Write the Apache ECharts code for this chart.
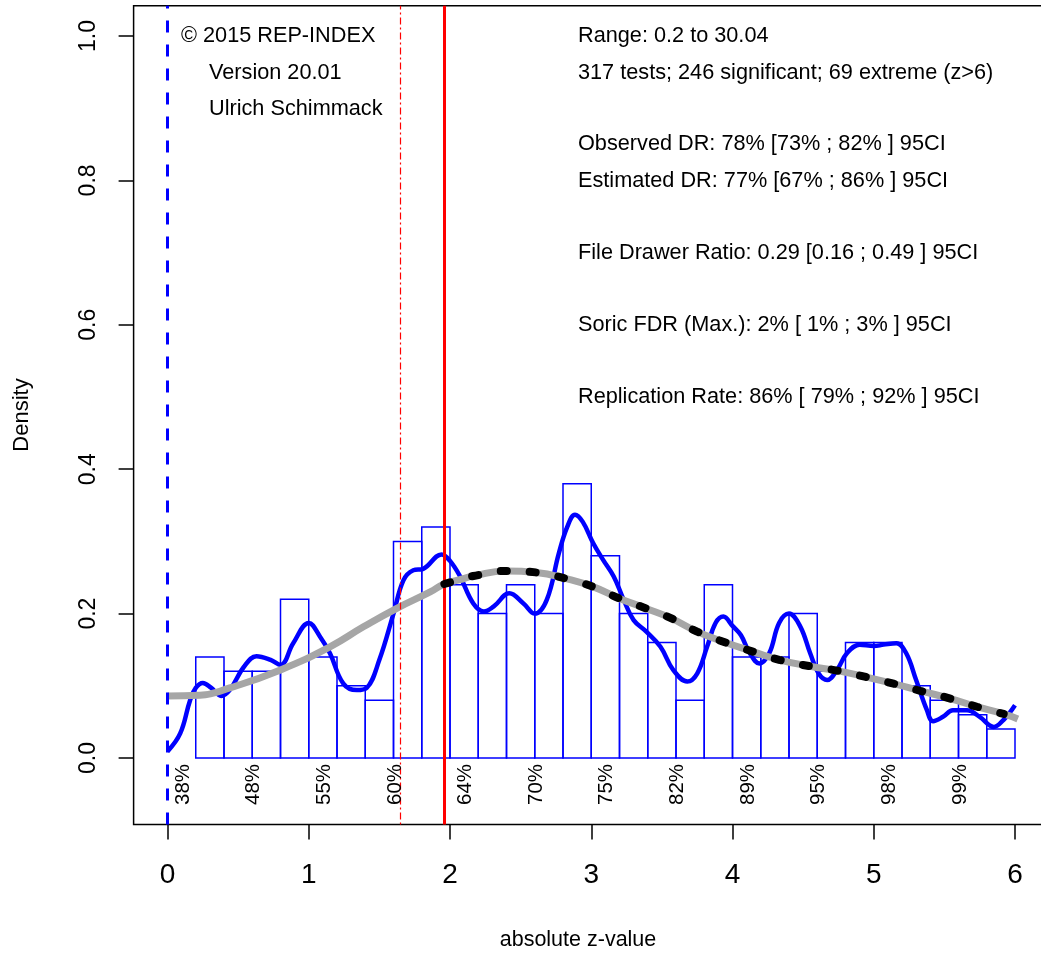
<!DOCTYPE html>
<html>
<head>
<meta charset="utf-8">
<script src="https://cdn.jsdelivr.net/npm/echarts@6/dist/echarts.min.js"></script>
<style>
html,body{margin:0;padding:0;background:#fff;}
#chart{width:1041px;height:955px;}
</style>
</head>
<body>
<div id="chart"></div>
<script>
// ---- data ----
const binLeft = [0.2,0.4,0.6,0.8,1.0,1.2,1.4,1.6,1.8,2.0,2.2,2.4,2.6,2.8,3.0,3.2,3.4,3.6,3.8,4.0,4.2,4.4,4.6,4.8,5.0,5.2,5.4,5.6,5.8];
const binWidth = 0.2;
const binDensity = [0.14,0.12,0.12,0.22,0.14,0.10,0.08,0.30,0.32,0.24,0.20,0.24,0.20,0.38,0.28,0.20,0.16,0.08,0.24,0.14,0.14,0.20,0.12,0.16,0.16,0.10,0.08,0.06,0.04];

const kernelDensity = [
 [0.0,0.009],[0.09,0.034],[0.16,0.080],[0.2,0.097],[0.25,0.104],[0.31,0.097],[0.38,0.086],[0.44,0.094],
 [0.54,0.126],[0.63,0.141],[0.73,0.136],[0.80,0.129],[0.89,0.159],[1.0,0.187],[1.08,0.168],[1.15,0.145],
 [1.245,0.103],[1.34,0.094],[1.41,0.097],[1.50,0.136],[1.60,0.200],[1.67,0.246],[1.74,0.260],[1.81,0.262],
 [1.94,0.282],[2.0,0.273],[2.07,0.252],[2.165,0.214],[2.24,0.203],[2.31,0.210],[2.42,0.228],[2.52,0.214],
 [2.60,0.200],[2.685,0.219],[2.77,0.283],[2.83,0.320],[2.885,0.337],[2.94,0.327],[3.015,0.297],[3.085,0.274],
 [3.16,0.251],[3.23,0.219],[3.30,0.191],[3.39,0.175],[3.49,0.154],[3.58,0.122],[3.68,0.106],[3.75,0.117],
 [3.82,0.154],[3.88,0.187],[3.935,0.196],[4.0,0.183],[4.06,0.170],[4.12,0.146],[4.19,0.131],[4.26,0.145],
 [4.33,0.187],[4.40,0.200],[4.48,0.182],[4.55,0.145],[4.61,0.117],[4.67,0.108],[4.74,0.122],[4.81,0.145],
 [4.90,0.157],[5.0,0.155],[5.07,0.157],[5.16,0.159],[5.23,0.145],[5.30,0.108],[5.375,0.067],[5.42,0.051],
 [5.49,0.057],[5.56,0.066],[5.66,0.066],[5.75,0.057],[5.85,0.043],[5.92,0.053],[5.96,0.062],[6.0,0.073]
];

const modelFit = [
 [0,0.086],[0.23,0.087],[0.44,0.097],[0.80,0.122],[1.15,0.154],[1.39,0.182],[1.62,0.207],[1.86,0.230],
 [1.96,0.241],[2.07,0.247],[2.165,0.252],[2.40,0.259],[2.61,0.257],[2.83,0.248],[3.015,0.237],[3.20,0.221],
 [3.39,0.207],[3.56,0.194],[3.75,0.175],[3.935,0.161],[4.15,0.147],[4.33,0.136],[4.55,0.127],[4.74,0.121],
 [4.95,0.112],[5.14,0.103],[5.33,0.093],[5.53,0.083],[5.73,0.071],[5.92,0.061],[6.02,0.054]
];

const critZ = 1.96;
const vLineBlue = 0;
const vLineRedDash = 1.645;

const powerZ = [0,0.5,1,1.5,2,2.5,3,3.5,4,4.5,5,5.5];
const powerLabels = ['38%','48%','55%','60%','64%','70%','75%','82%','89%','95%','98%','99%'];

const xTicks = [0,1,2,3,4,5,6];
const yTicks = [0,0.2,0.4,0.6,0.8,1.0];

const leftNotes = ['\u00A9 2015 REP-INDEX','Version 20.01','Ulrich Schimmack'];
const rightNotes = [
 'Range: 0.2 to 30.04',
 '317 tests; 246 significant; 69 extreme (z>6)',
 'Observed DR: 78% [73% ; 82% ] 95CI',
 'Estimated DR: 77% [67% ; 86% ] 95CI',
 'File Drawer Ratio: 0.29 [0.16 ; 0.49 ] 95CI',
 'Soric FDR (Max.): 2% [ 1% ; 3% ] 95CI',
 'Replication Rate: 86% [ 79% ; 92% ] 95CI'
];

// ---- chart ----
const FONT = '"Liberation Sans", Arial, Helvetica, sans-serif';
const chart = echarts.init(document.getElementById('chart'), null, {renderer:'canvas'});

const leftNoteX = [181,209,209];
const leftNoteY = [36,73,109];
const rightNoteY = [36,73,144,181,253,325,397];

const graphics = [];
leftNotes.forEach((t,i)=>graphics.push({type:'text', x:leftNoteX[i], y:leftNoteY[i], z:100,
  style:{text:t, font:'21.7px '+FONT, fill:'#000', verticalAlign:'middle'}}));
rightNotes.forEach((t,i)=>graphics.push({type:'text', x:578, y:rightNoteY[i], z:100,
  style:{text:t, font:'21.7px '+FONT, fill:'#000', verticalAlign:'middle'}}));
graphics.push({type:'text', x:578, y:940, z:100,
  style:{text:'absolute z-value', font:'21.5px '+FONT, fill:'#000', align:'center', verticalAlign:'middle'}});
graphics.push({type:'text', x:22, y:415, rotation:Math.PI/2, z:100,
  style:{text:'Density', font:'22px '+FONT, fill:'#000', align:'center', verticalAlign:'middle'}});

const option = {
  animation:false,
  backgroundColor:'#fff',
  grid:{left:133.6, top:5.7, width:915.3, height:818.7, outerBoundsMode:'none', containLabel:false,
    show:true, borderColor:'#000', borderWidth:1.5, backgroundColor:'transparent'},
  xAxis:{type:'value', min:-0.24, max:6.24,
    axisLine:{show:false, onZero:false}, splitLine:{show:false},
    axisTick:{show:true, inside:false, length:15, customValues:xTicks, lineStyle:{color:'#000', width:1.5}},
    axisLabel:{customValues:xTicks, margin:37, fontSize:28, color:'#000', fontFamily:FONT}},
  yAxis:{type:'value', min:-0.092, max:1.042,
    axisLine:{show:false, onZero:false}, splitLine:{show:false},
    axisTick:{show:true, inside:false, length:15, customValues:yTicks, lineStyle:{color:'#000', width:1.5}},
    axisLabel:{customValues:yTicks, rotate:90, margin:33, fontSize:23, color:'#000', fontFamily:FONT,
      formatter:v=>v.toFixed(1)}},
  graphic:graphics,
  series:[
    {type:'custom', z:1, silent:true,
     data:binLeft.map((s,i)=>[s, s+binWidth, binDensity[i]]),
     renderItem:(params, api)=>{
       const p0 = api.coord([api.value(0), 0]);
       const p1 = api.coord([api.value(1), api.value(2)]);
       return {type:'rect', shape:{x:p0[0], y:p1[1], width:p1[0]-p0[0], height:p0[1]-p1[1]},
         style:{fill:'none', stroke:'#0000FF', lineWidth:1.5}};
     }},
    {type:'line', z:2, data:[], silent:true,
     markLine:{silent:true, symbol:'none', animation:false, label:{show:false},
       data:[
         {xAxis:vLineBlue, lineStyle:{color:'#0000FF', width:3, type:[12,12]}},
         {xAxis:vLineRedDash, lineStyle:{color:'#FF0000', width:1.2, type:[2,3,7,3]}},
         {xAxis:critZ, lineStyle:{color:'#FF0000', width:3, type:'solid'}}
       ]}},
    {type:'line', z:3, data:kernelDensity, smooth:0.4, showSymbol:false, silent:true,
     lineStyle:{color:'#0000FF', width:4.5}},
    {type:'line', z:4, data:modelFit, smooth:true, showSymbol:false, silent:true,
     lineStyle:{color:'#A6A6A6', width:7}},
    {type:'line', z:5, data:modelFit.filter(d=>d[0]>=critZ && d[0]<=5.95), smooth:true, showSymbol:false, silent:true,
     lineStyle:{color:'#000', width:8, type:[6,23], cap:'round'}},
    {type:'custom', z:6, silent:true,
     data:powerZ.map(z=>[z,0]),
     renderItem:(params, api)=>{
       const p = api.coord([api.value(0), 0]);
       return {type:'text', x:p[0]+15.5, y:p[1]+6, rotation:Math.PI/2,
         style:{text:powerLabels[params.dataIndex], font:'20.5px '+FONT, fill:'#000', align:'right', verticalAlign:'middle'}};
     }}
  ]
};
chart.setOption(option);
</script>
</body>
</html>
